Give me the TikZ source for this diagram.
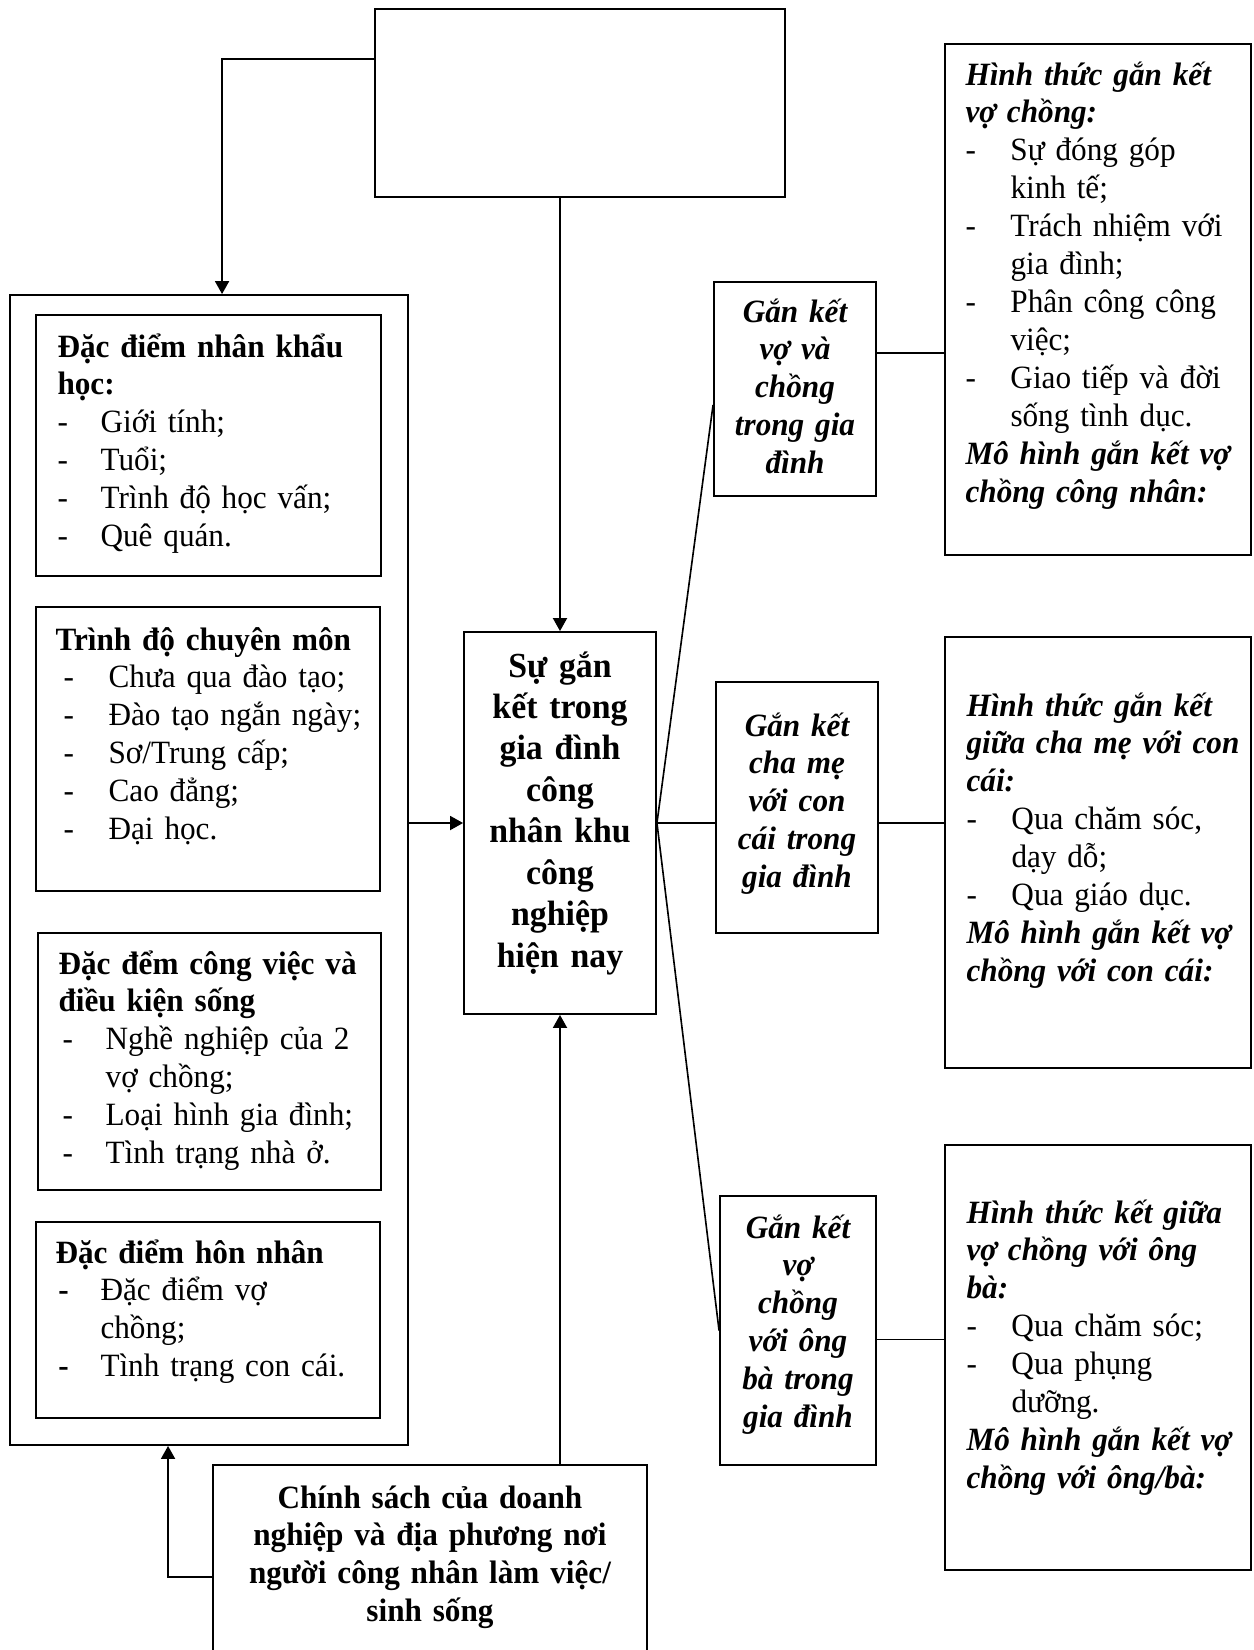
\documentclass[tikz,border=0pt]{standalone}
\usepackage{fontspec}
\setmainfont{Liberation Serif}[FakeStretch=0.96]
\usetikzlibrary{arrows.meta,calc,fit}
\newcommand{\dashitem}[3][-]{\makebox[#2][l]{\hspace{#3}#1}}
\begin{document}
\begin{tikzpicture}[x=0.3692pt,y=-0.3692pt,
  box/.style={draw,line width=0.7pt,inner sep=0pt},
  lbl/.style={inner sep=0pt,anchor=base west,align=left,text width=#1,font=\fontsize{12}{14}\selectfont},
  mid/.style={inner sep=0pt,anchor=base,align=center,text width=#1,font=\fontsize{12}{14}\selectfont\bfseries},
  arr/.style={line width=0.6pt,-{Triangle[length=4.8pt,width=5.2pt]}},
  link/.style={line width=0.6pt}]
\useasboundingbox (0,0) rectangle (1254,1650);
\node[box,fit={(375,9) (785,197)}] (src) {};
\node[box,fit={(10,295) (408,1445)}] (group) {};
\node[box,fit={(36,315) (381,576)}] (demo) {};
\node[box,fit={(36,607) (380,891)}] (skill) {};
\node[box,fit={(38,933) (381,1190)}] (work) {};
\node[box,fit={(36,1222) (380,1418)}] (marr) {};
\node[lbl=125pt] (demo-t) at (57,357) {\textbf{Đặc điểm nhân khẩu}\\
  \textbf{học:}\\
  \dashitem{15.9pt}{0pt}Giới tính;\\
  \dashitem{15.9pt}{0pt}Tuổi;\\
  \dashitem{15.9pt}{0pt}Trình độ học vấn;\\
  \dashitem{15.9pt}{0pt}Quê quán.};
\node[lbl=125pt] (skill-t) at (55,650) {\textbf{Trình độ chuyên môn}\\
  \dashitem{19.6pt}{3pt}Chưa qua đào tạo;\\
  \dashitem{19.6pt}{3pt}Đào tạo ngắn ngày;\\
  \dashitem{19.6pt}{3pt}Sơ/Trung cấp;\\
  \dashitem{19.6pt}{3pt}Cao đẳng;\\
  \dashitem{19.6pt}{3pt}Đại học.};
\node[lbl=125pt] (work-t) at (58,974) {\textbf{Đặc đểm công việc và}\\
  \textbf{điều kiện sống}\\
  \dashitem{17.4pt}{1.5pt}Nghề nghiệp của 2\\
  \hspace*{17.4pt}vợ chồng;\\
  \dashitem{17.4pt}{1.5pt}Loại hình gia đình;\\
  \dashitem{17.4pt}{1.5pt}Tình trạng nhà ở.};
\node[lbl=125pt] (marr-t) at (55,1263) {\textbf{Đặc điểm hôn nhân}\\
  \dashitem[\textbf{-}]{16.6pt}{1pt}Đặc điểm vợ\\
  \hspace*{16.6pt}chồng;\\
  \dashitem[\textbf{-}]{16.6pt}{1pt}Tình trạng con cái.};
\node[box,fit={(464,632) (656,1014)}] (core) {};
\node[mid=66pt,font=\fontsize{13}{15.3}\selectfont\bfseries] (core-t) at (560,677) {Sự gắn\\kết trong\\gia đình\\công\\nhân khu\\công\\nghiệp\\hiện nay};
\node[box,fit={(213,1465) (647,1660)}] (policy) {};
\node[mid=150pt] (policy-t) at (430,1508) {Chính sách của doanh\\nghiệp và địa phương nơi\\người công nhân làm việc/\\sinh sống};
\node[box,fit={(714,282) (876,496)}] (bondA) {};
\node[box,fit={(716,682) (878,933)}] (bondB) {};
\node[box,fit={(720,1196) (876,1465)}] (bondC) {};
\node[mid=55pt,font=\fontsize{12}{14}\selectfont\bfseries\itshape] (bondA-t) at (795,322) {Gắn kết\\vợ và\\chồng\\trong gia\\đình};
\node[mid=55pt,font=\fontsize{12}{14}\selectfont\bfseries\itshape] (bondB-t) at (797,736) {Gắn kết\\cha mẹ\\với con\\cái trong\\gia đình};
\node[mid=55pt,font=\fontsize{12}{14}\selectfont\bfseries\itshape] (bondC-t) at (798,1238) {Gắn kết\\vợ\\chồng\\với ông\\bà trong\\gia đình};
\node[box,fit={(945,44) (1251,555)}] (formA) {};
\node[box,fit={(945,637) (1251,1068)}] (formB) {};
\node[box,fit={(945,1145) (1251,1570)}] (formC) {};
\node[lbl=110pt] (formA-t) at (965,85) {\textbf{\textit{Hình thức gắn kết}}\\
  \textbf{\textit{vợ chồng:}}\\
  \dashitem{16.6pt}{0pt}Sự đóng góp\\
  \hspace*{16.6pt}kinh tế;\\
  \dashitem{16.6pt}{0pt}Trách nhiệm với\\
  \hspace*{16.6pt}gia đình;\\
  \dashitem{16.6pt}{0pt}Phân công công\\
  \hspace*{16.6pt}việc;\\
  \dashitem{16.6pt}{0pt}Giao tiếp và đời\\
  \hspace*{16.6pt}sống tình dục.\\
  \textbf{\textit{Mô hình gắn kết vợ}}\\
  \textbf{\textit{chồng công nhân:}}};
\node[lbl=110pt] (formB-t) at (966,716) {\textbf{\textit{Hình thức gắn kết}}\\
  \textbf{\textit{giữa cha mẹ với con}}\\
  \textbf{\textit{cái:}}\\
  \dashitem{16.6pt}{0pt}Qua chăm sóc,\\
  \hspace*{16.6pt}dạy dỗ;\\
  \dashitem{16.6pt}{0pt}Qua giáo dục.\\
  \textbf{\textit{Mô hình gắn kết vợ}}\\
  \textbf{\textit{chồng với con cái:}}};
\node[lbl=110pt] (formC-t) at (966,1223) {\textbf{\textit{Hình thức kết giữa}}\\
  \textbf{\textit{vợ chồng với ông}}\\
  \textbf{\textit{bà:}}\\
  \dashitem{16.6pt}{0pt}Qua chăm sóc;\\
  \dashitem{16.6pt}{0pt}Qua phụng\\
  \hspace*{16.6pt}dưỡng.\\
  \textbf{\textit{Mô hình gắn kết vợ}}\\
  \textbf{\textit{chồng với ông/bà:}}};
\draw[arr] ($(src.north west)+(0,51)$) -| ($(group.north west)+(213,0)$);
\draw[arr] (src.south -| core.north) -- (core.north);
\draw[arr] (group.east |- core.west) -- (core.west);
\draw[arr] (policy.north -| core.south) -- (core.south);
\draw[arr] ($(policy.north west)+(0,113)$) -| ($(group.south west)+(159,0)$);
\draw[link] (core.east) -- ($(bondA.west)+(0,16)$);
\draw[link] (core.east) -- (bondC.west);
\draw[link] (core.east) -- (bondB.west |- core.east);
\draw[link] (bondB.east |- core.east) -- (formB.west |- core.east);
\coordinate (a1) at ($(bondA.east)+(0,-36)$);
\draw[link] (a1) -- (a1 -| formA.west);
\coordinate (c1) at ($(bondC.east)+(0,9)$);
\draw[link] (c1) -- (c1 -| formC.west);
\end{tikzpicture}
\end{document}
